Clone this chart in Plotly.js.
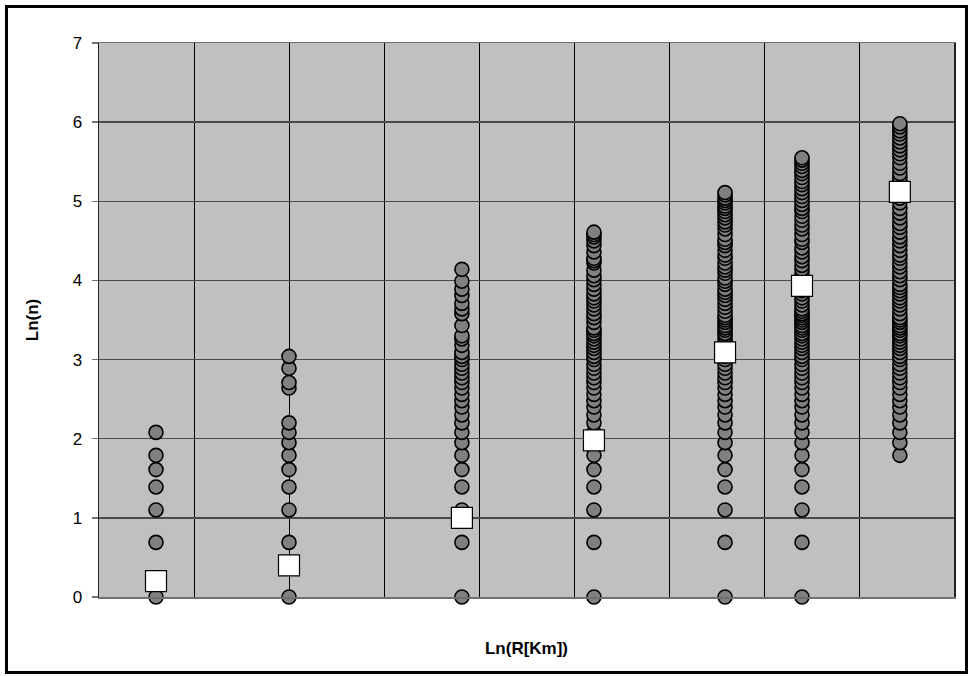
<!DOCTYPE html>
<html>
<head>
<meta charset="utf-8">
<script src="https://cdn.plot.ly/plotly-3.0.1.min.js"></script>
<style>
  html, body { margin: 0; padding: 0; background: #fff; }
  #wrap { position: relative; width: 974px; height: 677px; }
  #chart { width: 974px; height: 677px; }
  #frame { position: absolute; left: 5px; top: 5px; width: 957px; height: 663px;
           border: 3px solid #000; pointer-events: none; }
</style>
</head>
<body>
<div id="wrap"><div id="chart"></div><div id="frame"></div></div>
<script>
// x position (Ln(R)) of each distance class
const classX = [0.60, 2.00, 3.82, 5.21, 6.59, 7.40, 8.43];

// Ln(n) values of the individual points for each distance class
const class1 = [0, 0.69, 1.10, 1.39, 1.61, 1.79, 2.08];
const class2 = [0, 0.69, 1.10, 1.39, 1.61, 1.79, 1.95, 2.08, 2.20, 2.64, 2.71, 2.89, 3.04];
const class3 = [0, 0.69, 1.10, 1.39, 1.61, 1.79, 1.95, 2.08, 2.20, 2.30, 2.40, 2.48, 2.56, 2.64,
  2.71, 2.77, 2.83, 2.89, 2.94, 3.00, 3.04, 3.09, 3.18, 3.26, 3.30, 3.43, 3.58, 3.64, 3.71, 3.81,
  3.89, 3.99, 4.14];
const class4 = [0, 0.69, 1.10, 1.39, 1.61, 1.79, 1.95, 2.08, 2.20, 2.30, 2.40, 2.48, 2.56, 2.64,
  2.71, 2.77, 2.83, 2.89, 2.94, 3.00, 3.04, 3.09, 3.14, 3.18, 3.22, 3.26, 3.30, 3.33, 3.37, 3.40,
  3.47, 3.53, 3.58, 3.64, 3.69, 3.74, 3.78, 3.83, 3.89, 3.95, 4.01, 4.06, 4.13, 4.22, 4.25, 4.28,
  4.36, 4.44, 4.50, 4.55, 4.58, 4.61];
const class5 = [0, 0.69, 1.10, 1.39, 1.61, 1.79, 1.95, 2.08, 2.20, 2.30, 2.40, 2.48, 2.56, 2.64,
  2.71, 2.77, 2.83, 2.89, 2.94, 3.00, 3.04, 3.09, 3.14, 3.18, 3.22, 3.26, 3.30, 3.33, 3.37, 3.40,
  3.43, 3.47, 3.50, 3.53, 3.56, 3.61, 3.66, 3.71, 3.76, 3.81, 3.85, 3.89, 3.95, 3.99, 4.03, 4.09,
  4.13, 4.17, 4.22, 4.28, 4.32, 4.38, 4.44, 4.48, 4.52, 4.58, 4.65, 4.70, 4.74, 4.79, 4.83, 4.87,
  4.91, 4.94, 4.98, 5.01, 5.04, 5.08, 5.11];
const class6 = [0, 0.69, 1.10, 1.39, 1.61, 1.79, 1.95, 2.08, 2.20, 2.30, 2.40, 2.48, 2.56, 2.64,
  2.71, 2.77, 2.83, 2.89, 2.94, 3.00, 3.04, 3.09, 3.14, 3.18, 3.22, 3.26, 3.30, 3.33, 3.37, 3.40,
  3.43, 3.47, 3.50, 3.53, 3.56, 3.58, 3.61, 3.64, 3.69, 3.74, 3.78, 3.83, 3.87, 3.91, 3.95, 3.99,
  4.03, 4.09, 4.14, 4.19, 4.25, 4.30, 4.36, 4.41, 4.48, 4.52, 4.58, 4.65, 4.70, 4.76, 4.81, 4.87,
  4.91, 4.96, 5.01, 5.06, 5.11, 5.16, 5.21, 5.25, 5.30, 5.35, 5.39, 5.44, 5.48, 5.52, 5.55];
const class7 = [1.79, 1.95, 2.08, 2.20, 2.30, 2.40, 2.48, 2.56, 2.64, 2.71, 2.77, 2.83, 2.89, 2.94,
  3.00, 3.04, 3.09, 3.14, 3.18, 3.22, 3.26, 3.30, 3.33, 3.37, 3.40, 3.43, 3.47, 3.50, 3.53, 3.58,
  3.64, 3.69, 3.74, 3.78, 3.83, 3.87, 3.91, 3.95, 4.01, 4.06, 4.11, 4.17, 4.22, 4.28, 4.32, 4.38,
  4.44, 4.50, 4.55, 4.61, 4.67, 4.72, 4.79, 4.85, 4.91, 4.98, 5.04, 5.11, 5.17, 5.25, 5.30, 5.35,
  5.42, 5.48, 5.55, 5.60, 5.65, 5.70, 5.75, 5.80, 5.85, 5.89, 5.94, 5.98];

// mean Ln(n) of each class (white squares)
const classMean = [0.20, 0.40, 1.00, 1.98, 3.09, 3.93, 5.12];

// y tick labels
const yTicks = [0, 1, 2, 3, 4, 5, 6, 7];

const classes = [class1, class2, class3, class4, class5, class6, class7];
const ptsX = [], ptsY = [];
classes.forEach((vals, i) => {
  vals.forEach(v => { ptsX.push(classX[i]); ptsY.push(v); });
});

const traces = [
  {
    type: 'scatter', mode: 'markers', x: ptsX, y: ptsY, cliponaxis: false,
    marker: { symbol: 'circle', size: 14, color: '#808080', line: { color: '#000', width: 1.6 } },
    hoverinfo: 'x+y'
  },
  {
    type: 'scatter', mode: 'markers', x: classX, y: classMean, cliponaxis: false,
    marker: { symbol: 'square', size: 21, color: '#ffffff', line: { color: '#000', width: 1.2 } },
    hoverinfo: 'x+y'
  }
];

const layout = {
  width: 974, height: 677,
  margin: { l: 99, r: 20, t: 43, b: 80 },
  paper_bgcolor: '#ffffff',
  plot_bgcolor: '#c0c0c0',
  showlegend: false,
  font: { family: 'Liberation Sans, Arial, sans-serif', color: '#000', size: 17 },
  xaxis: {
    range: [0, 9], dtick: 1, tick0: 0,
    showticklabels: false, ticks: '',
    showgrid: true, gridcolor: '#000', gridwidth: 1,
    zeroline: false,
    showline: true, linecolor: '#707070', linewidth: 1.5, mirror: true,
    title: { text: '<b>Ln(R[Km])</b>', font: { size: 17 }, standoff: 44 },
    automargin: false
  },
  yaxis: {
    range: [0, 7], tickvals: yTicks, ticktext: yTicks.map(String),
    ticks: 'outside', ticklen: 6, tickcolor: '#707070', tickwidth: 1.5,
    ticklabelstandoff: 6,
    showgrid: true, gridcolor: '#4a4a4a', gridwidth: 1.3,
    zeroline: false,
    showline: true, linecolor: '#222', linewidth: 1.5, mirror: true,
    tickfont: { size: 17 },
    title: { text: '<b>Ln(n)</b>', font: { size: 17 }, standoff: 29 },
    automargin: false
  }
};

Plotly.newPlot('chart', traces, layout, { staticPlot: true, displayModeBar: false });
</script>
</body>
</html>
